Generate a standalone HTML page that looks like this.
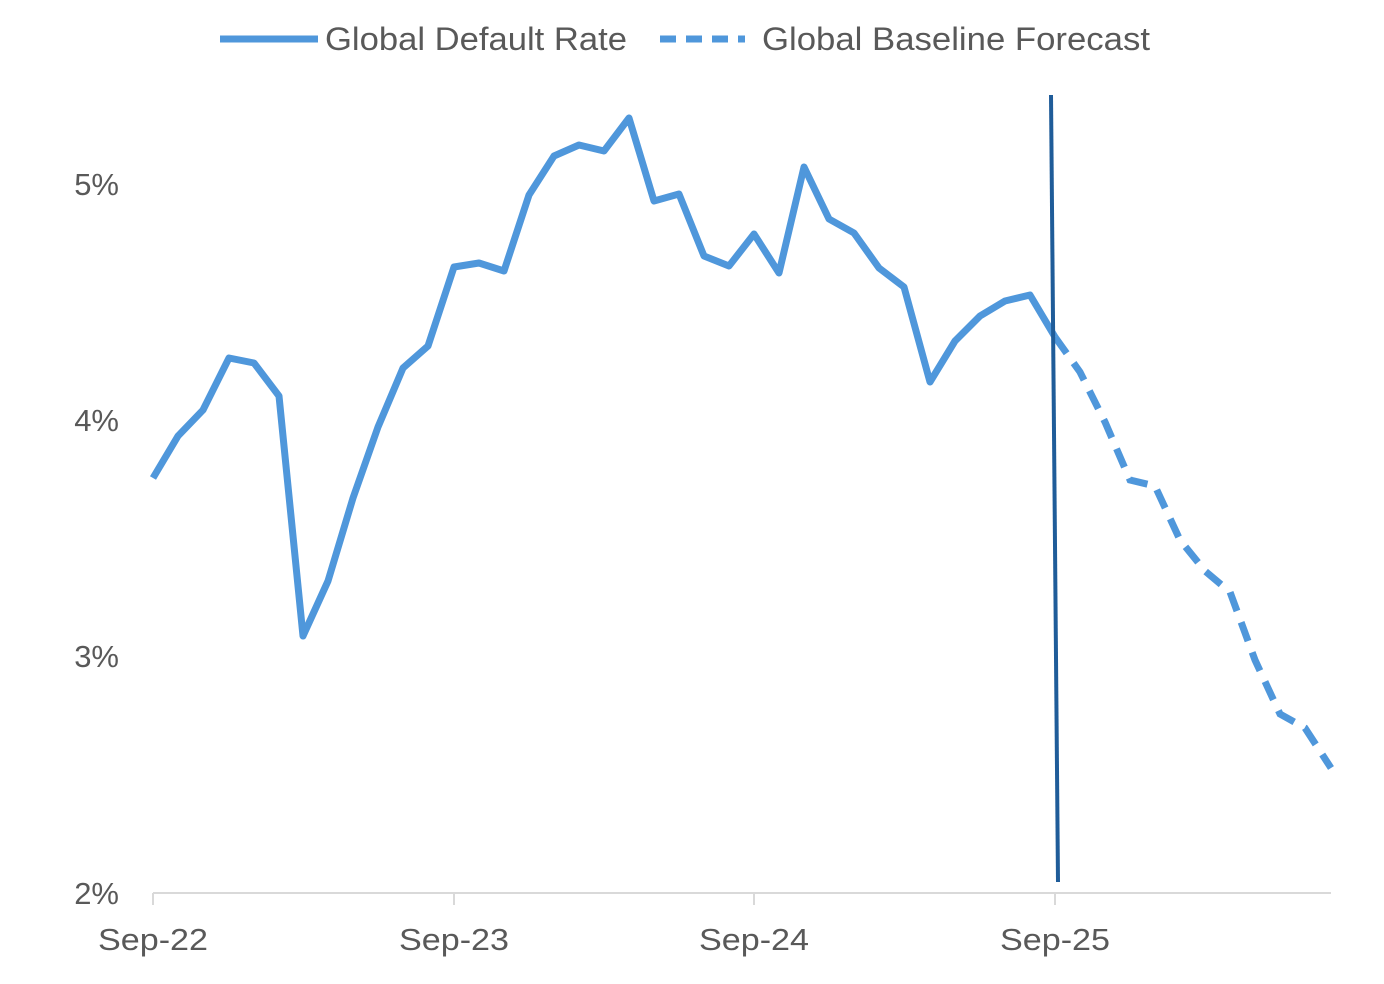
<!DOCTYPE html>
<html><head><meta charset="utf-8"><style>body{margin:0;background:#fff}svg{display:block}</style></head><body>
<svg width="1384" height="984" xmlns="http://www.w3.org/2000/svg" font-family="Liberation Sans, sans-serif" fill="#595959">
<line x1="220" y1="39" x2="318" y2="39" stroke="#4f97db" stroke-width="7"/>
<text x="325" y="50" font-size="32" textLength="302" lengthAdjust="spacingAndGlyphs">Global Default Rate</text>
<line x1="660" y1="39" x2="745" y2="39" stroke="#4f97db" stroke-width="7" stroke-dasharray="16,10"/>
<text x="762" y="50" font-size="32" textLength="388" lengthAdjust="spacingAndGlyphs">Global Baseline Forecast</text>
<g font-size="31" text-anchor="end">
<text x="119" y="195">5%</text><text x="119" y="431">4%</text><text x="119" y="667">3%</text><text x="119" y="904">2%</text>
</g>
<line x1="153" y1="893" x2="1331" y2="893" stroke="#d9d9d9" stroke-width="2"/>
<g stroke="#d9d9d9" stroke-width="2"><line x1="153" y1="893" x2="153" y2="905"/><line x1="454" y1="893" x2="454" y2="905"/><line x1="754" y1="893" x2="754" y2="905"/><line x1="1055" y1="893" x2="1055" y2="905"/></g>
<g font-size="31" text-anchor="middle">
<text x="153" y="950" textLength="110" lengthAdjust="spacingAndGlyphs">Sep-22</text><text x="454" y="950" textLength="110" lengthAdjust="spacingAndGlyphs">Sep-23</text><text x="754" y="950" textLength="110" lengthAdjust="spacingAndGlyphs">Sep-24</text><text x="1055" y="950" textLength="110" lengthAdjust="spacingAndGlyphs">Sep-25</text>
</g>
<polyline fill="none" stroke="#4f97db" stroke-width="7" stroke-linejoin="round" points="153,478 178,436 203,410 229,358 254,363 279,396 303,636 328,581 353,498 378,427 403,368 428,346 454,267 479,263 504,271 529,195 554,156 579,145 604,151 629,118 654,201 679,194 704,256 729,266 754,234 779,273 804,167 829,219 854,233 879,268 904,287 930,382 955,341 980,316 1005,301 1030,295 1055,337"/>
<polyline fill="none" stroke="#4f97db" stroke-width="7" stroke-dasharray="20,12" points="1055,337 1080,372 1105,422 1130,480 1155,486 1180,540 1205,571 1230,592 1255,660 1280,714 1305,728 1331,768"/>
<line x1="1051" y1="95" x2="1058" y2="882" stroke="#1f5c99" stroke-width="4"/>
</svg>
</body></html>
